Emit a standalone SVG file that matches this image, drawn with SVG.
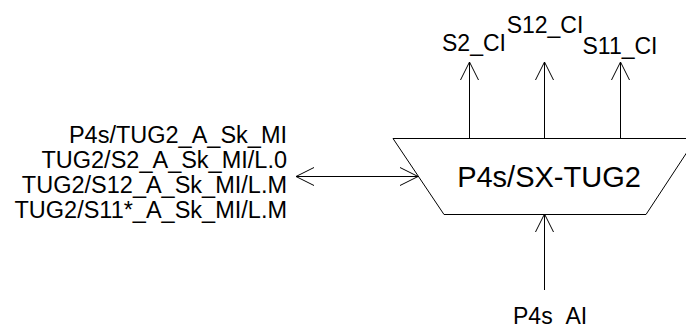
<svg xmlns="http://www.w3.org/2000/svg" width="686" height="324" viewBox="0 0 686 324">
<style>
  text { font-family: "Liberation Sans", Arial, sans-serif; fill: #000; }
  .lbl { font-size: 23px; }
  .side { font-size: 23.5px; }
  .big { font-size: 29px; }
  .ln { stroke: #000; stroke-width: 1; fill: none; }
</style>
<defs>
  <marker id="ah" viewBox="0 0 20 20" refX="19" refY="10" markerWidth="20" markerHeight="20" markerUnits="userSpaceOnUse" orient="auto-start-reverse">
    <path d="M1,1 L19,10 L1,19" fill="none" stroke="#000" stroke-width="1"/>
  </marker>
</defs>
<rect width="686" height="324" fill="#fff"/>
<g id="block">
  <polygon class="ln" points="393,138.5 696,138.5 646,214.5 444,214.5"/>
  <text class="big" x="549" y="187" text-anchor="middle">P4s/SX-TUG2</text>
</g>
<g id="left-labels">
  <text class="side" x="287" y="143" text-anchor="end">P4s/TUG2_A_Sk_MI</text>
  <text class="side" x="287" y="168" text-anchor="end">TUG2/S2_A_Sk_MI/L.0</text>
  <text class="side" x="287" y="193" text-anchor="end">TUG2/S12_A_Sk_MI/L.M</text>
  <text class="side" x="287" y="218" text-anchor="end">TUG2/S11*_A_Sk_MI/L.M</text>
</g>
<g id="out-s2"><text class="lbl" x="474" y="51" text-anchor="middle">S2_CI</text></g>
<g id="out-s12"><text class="lbl" x="545" y="33" text-anchor="middle">S12_CI</text></g>
<g id="out-s11"><text class="lbl" x="620" y="54" text-anchor="middle">S11_CI</text></g>
<g id="in-ai"><text class="lbl" x="513" y="324">P4s_AI</text></g>
<g id="connectors">
  <line class="ln" x1="469.5" y1="138" x2="469.5" y2="62" marker-end="url(#ah)"/>
  <line class="ln" x1="544.5" y1="138" x2="544.5" y2="62" marker-end="url(#ah)"/>
  <line class="ln" x1="620.5" y1="138" x2="620.5" y2="62" marker-end="url(#ah)"/>
  <line class="ln" x1="544.5" y1="290" x2="544.5" y2="214" marker-end="url(#ah)"/>
  <line class="ln" x1="296" y1="176.5" x2="418" y2="176.5" marker-start="url(#ah)" marker-end="url(#ah)"/>
</g>
</svg>
